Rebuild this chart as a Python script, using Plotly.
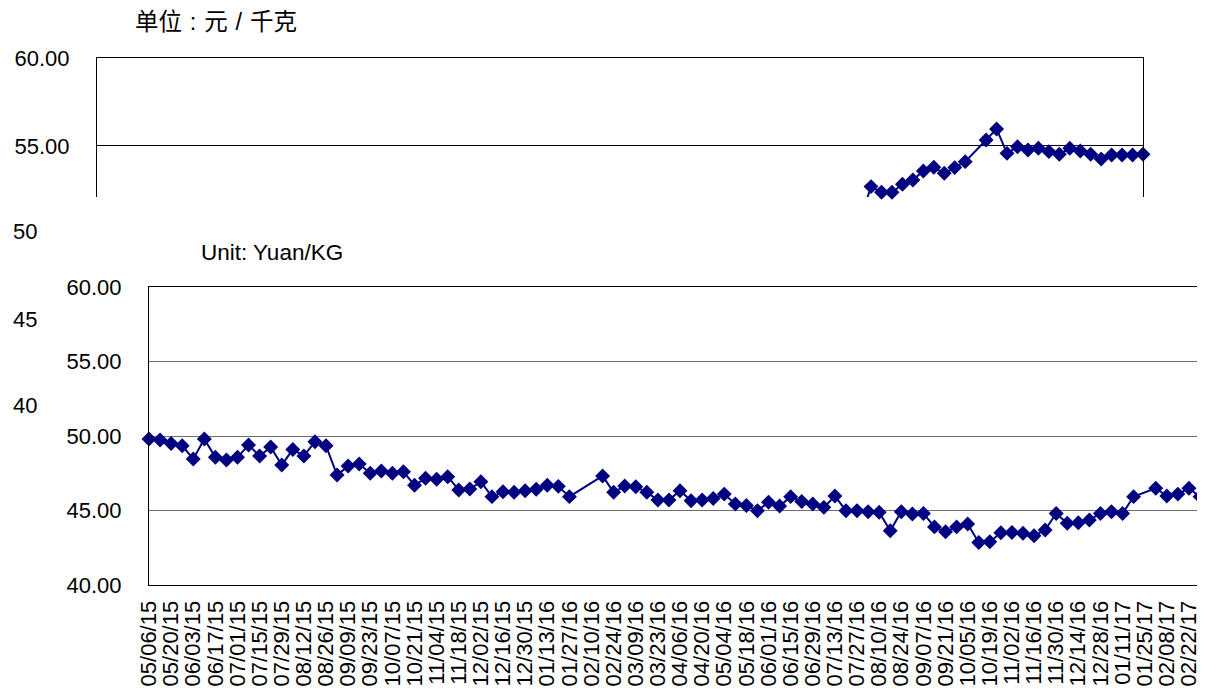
import plotly.graph_objects as go

# weekly price dates (bottom chart categories)
weeks = [
    "05/06/15", "05/13/15", "05/20/15", "05/27/15", "06/03/15", "06/10/15", "06/17/15", "06/24/15",
    "07/01/15", "07/08/15", "07/15/15", "07/22/15", "07/29/15", "08/05/15", "08/12/15", "08/19/15",
    "08/26/15", "09/02/15", "09/09/15", "09/16/15", "09/23/15", "09/30/15", "10/07/15", "10/14/15",
    "10/21/15", "10/28/15", "11/04/15", "11/11/15", "11/18/15", "11/25/15", "12/02/15", "12/09/15",
    "12/16/15", "12/23/15", "12/30/15", "01/06/16", "01/13/16", "01/20/16", "01/27/16", "02/03/16",
    "02/10/16", "02/17/16", "02/24/16", "03/02/16", "03/09/16", "03/16/16", "03/23/16", "03/30/16",
    "04/06/16", "04/13/16", "04/20/16", "04/27/16", "05/04/16", "05/11/16", "05/18/16", "05/25/16",
    "06/01/16", "06/08/16", "06/15/16", "06/22/16", "06/29/16", "07/06/16", "07/13/16", "07/20/16",
    "07/27/16", "08/03/16", "08/10/16", "08/17/16", "08/24/16", "08/31/16", "09/07/16", "09/14/16",
    "09/21/16", "09/28/16", "10/05/16", "10/12/16", "10/19/16", "10/26/16", "11/02/16", "11/09/16",
    "11/16/16", "11/23/16", "11/30/16", "12/07/16", "12/14/16", "12/21/16", "12/28/16", "01/04/17",
    "01/11/17", "01/18/17", "01/25/17", "02/01/17", "02/08/17", "02/15/17", "02/22/17", "03/01/17",
]

prices = [
    49.80, 49.73, 49.50, 49.35, 48.46, 49.80, 48.57, 48.39, 48.57, 49.40,
    48.66, 49.26, 48.05, 49.10, 48.66, 49.62, 49.35, 47.38, 47.98, 48.12,
    47.50, 47.65, 47.50, 47.60, 46.70, 47.16, 47.10, 47.27, 46.38, 46.44,
    46.93, 45.93, 46.26, 46.22, 46.33, 46.42, 46.70, 46.62, 45.93, None,
    None, 47.32, 46.22, 46.64, 46.60, 46.22, 45.70, 45.70, 46.33, 45.66,
    45.70, 45.80, 46.10, 45.44, 45.33, 44.99, 45.56, 45.30, 45.93, 45.60,
    45.44, 45.21, 45.97, 44.99, 44.99, 44.92, 44.88, 43.64, 44.92, 44.77,
    44.80, 43.90, 43.57, 43.90, 44.09, 42.85, 42.90, 43.51, 43.53, 43.47,
    43.31, 43.69, 44.80, 44.14, 44.18, 44.36, 44.80, 44.92, 44.80, 45.93,
    None, 46.49, 45.97, 46.10, 46.49, 45.93,
]

# the partly hidden chart behind (only its last weeks show)
top_values = [None] * 73 + [
    50.90, 52.69, 52.37, 52.37, 52.82, 53.07, 53.58, 53.79, 53.45, 53.77,
    54.11, None, 55.34, 55.97, 54.58, 54.96, 54.77, 54.87, 54.68, 54.53,
    54.87, 54.72, 54.53, 54.26, 54.49, 54.49, 54.49, 54.53,
]
top_range = [52.1, 60]

tick_labels = weeks[::2]
y_ticks = [40, 45, 50, 55, 60]
top_y_ticks = [55, 60]
leftover_ticks = ["50", "45", "40"]

W, H = 1205, 690
OFF = 8  # page body margin around the plot div
NAVY = "#000080"
FONT = "Liberation Sans, Arial, sans-serif"


def px_x(p):
    return (p - OFF) / W


def px_y(p):
    return 1 - (p - OFF) / H


leftover_rows = [231, 319, 405]  # page rows of the stray tick labels

fig = go.Figure()

# bottom chart
fig.add_trace(go.Scatter(
    x=weeks, y=prices, mode="lines+markers", connectgaps=True,
    line=dict(color=NAVY, width=2),
    marker=dict(symbol="diamond", size=11.5, color=NAVY),
    cliponaxis=False, showlegend=False, xaxis="x", yaxis="y",
))

# top chart: line clipped at the cut edge, markers for what shows
top_x = list(range(len(top_values)))
fig.add_trace(go.Scatter(
    x=top_x, y=top_values, mode="lines", connectgaps=True,
    line=dict(color=NAVY, width=2),
    showlegend=False, xaxis="x2", yaxis="y2",
))
fig.add_trace(go.Scatter(
    x=top_x,
    y=[v if v is not None and v >= top_range[0] else None for v in top_values],
    mode="markers", marker=dict(symbol="diamond", size=11.5, color=NAVY),
    cliponaxis=False, showlegend=False, xaxis="x2", yaxis="y2",
))

sp = "\u2004"
annotations = [
    dict(text=f"单位{sp}:{sp}元{sp}/{sp}千克", x=px_x(133), y=px_y(22), xref="paper", yref="paper",
         xanchor="left", yanchor="middle", showarrow=False,
         font=dict(family="Liberation Sans, Noto Sans CJK SC", size=23.5, color="black")),
    dict(text="Unit: Yuan/KG", x=px_x(199), y=px_y(252), xref="paper", yref="paper",
         xanchor="left", yanchor="middle", showarrow=False,
         font=dict(family=FONT, size=22.5, color="black")),
]
for lab, py in zip(leftover_ticks, leftover_rows):
    annotations.append(dict(text=lab, x=px_x(11), y=px_y(py), xref="paper", yref="paper",
                            xanchor="left", yanchor="middle", showarrow=False,
                            font=dict(family=FONT, size=22, color="black")))

fig.update_layout(
    width=W, height=H,
    margin=dict(l=0, r=0, t=0, b=0, autoexpand=False),
    paper_bgcolor="white", plot_bgcolor="rgba(0,0,0,0)",
    font=dict(family=FONT, size=22, color="black"),
    xaxis=dict(
        domain=[px_x(149), px_x(1200)], type="category", range=[0, len(weeks) - 1],
        tickvals=tick_labels, ticktext=tick_labels, tickangle=-90,
        showgrid=False, showline=True, linecolor="black", linewidth=1, mirror=True,
        ticks="", ticklabelstandoff=6, tickfont=dict(size=22), anchor="y", automargin=False,
    ),
    yaxis=dict(
        domain=[px_y(585), px_y(287)], range=[40, 60],
        tickvals=y_ticks, tickformat=".2f",
        showgrid=True, gridcolor="#6e6e6e", gridwidth=1,
        showline=True, linecolor="black", linewidth=1, mirror=True,
        ticks="", ticklabelstandoff=22, tickfont=dict(size=22), zeroline=False, anchor="x",
        automargin=False,
    ),
    xaxis2=dict(
        domain=[px_x(97), px_x(1143)], range=[0, len(top_values) - 1], side="top",
        showgrid=False, showline=True, linecolor="black", linewidth=1, mirror=False,
        showticklabels=False, ticks="", zeroline=False, anchor="y2", automargin=False,
    ),
    yaxis2=dict(
        domain=[px_y(197), px_y(58)], range=top_range,
        tickvals=top_y_ticks, tickformat=".2f",
        showgrid=True, gridcolor="black", gridwidth=1,
        showline=True, linecolor="black", linewidth=1, mirror=True,
        ticks="", ticklabelstandoff=22, tickfont=dict(size=22), zeroline=False, anchor="x2",
        automargin=False,
    ),
    annotations=annotations,
)

fig.write_html("out.html")
